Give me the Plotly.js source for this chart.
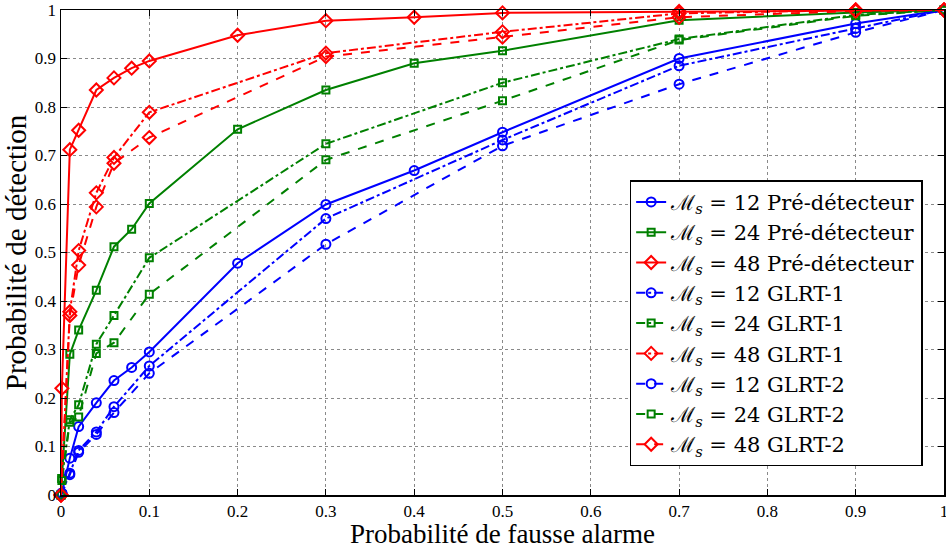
<!DOCTYPE html>
<html>
<head>
<meta charset="utf-8">
<script src="https://cdn.plot.ly/plotly-3.0.1.min.js"></script>
<style>html,body{margin:0;padding:0;background:#fff;}#chart{width:946px;height:549px;}</style>
</head>
<body>
<div id="chart"></div>
<script>
// Probability of false alarm (x) sample points
var xPre = [0, 0.001, 0.01, 0.02, 0.04, 0.06, 0.08, 0.1, 0.2, 0.3, 0.4, 0.5, 0.7, 0.9, 1];
var xGlrt = [0, 0.001, 0.01, 0.02, 0.04, 0.06, 0.1, 0.3, 0.5, 0.7, 0.9, 1];
var xGlrtRed = [0, 0.01, 0.02, 0.04, 0.06, 0.1, 0.3, 0.5, 0.7, 0.9, 1];

// Probability of detection (y)
var pre12 = [0, 0.004, 0.076, 0.141, 0.19, 0.236, 0.263, 0.295, 0.478, 0.599, 0.669, 0.748, 0.900, 0.972, 1];
var pre24 = [0, 0.034, 0.29, 0.34, 0.422, 0.512, 0.548, 0.601, 0.754, 0.835, 0.89, 0.916, 0.979, 0.995, 1];
var pre48 = [0, 0.22, 0.712, 0.752, 0.835, 0.86, 0.88, 0.895, 0.948, 0.978, 0.985, 0.994, 0.997, 1, 1];

var g1_12 = [0, 0.004, 0.045, 0.092, 0.13, 0.182, 0.266, 0.57, 0.732, 0.885, 0.962, 1];
var g1_24 = [0, 0.034, 0.155, 0.186, 0.311, 0.37, 0.489, 0.724, 0.85, 0.94, 0.99, 1];
var g1_48 = [0, 0.378, 0.504, 0.623, 0.696, 0.789, 0.911, 0.955, 0.993, 1, 1];

var g2_12 = [0, 0.004, 0.042, 0.088, 0.125, 0.17, 0.251, 0.517, 0.72, 0.847, 0.954, 1];
var g2_24 = [0, 0.03, 0.15, 0.161, 0.292, 0.314, 0.414, 0.691, 0.813, 0.938, 0.988, 1];
var g2_48 = [0, 0.37, 0.474, 0.594, 0.684, 0.737, 0.904, 0.944, 0.985, 0.998, 1];

var EQ = '&nbsp;=&nbsp;';
var labels = [
  'ℳ<sub><i>s</i></sub>' + EQ + '12 Pré-détecteur',
  'ℳ<sub><i>s</i></sub>' + EQ + '24 Pré-détecteur',
  'ℳ<sub><i>s</i></sub>' + EQ + '48 Pré-détecteur',
  'ℳ<sub><i>s</i></sub>' + EQ + '12 GLRT-1',
  'ℳ<sub><i>s</i></sub>' + EQ + '24 GLRT-1',
  'ℳ<sub><i>s</i></sub>' + EQ + '48 GLRT-1',
  'ℳ<sub><i>s</i></sub>' + EQ + '12 GLRT-2',
  'ℳ<sub><i>s</i></sub>' + EQ + '24 GLRT-2',
  'ℳ<sub><i>s</i></sub>' + EQ + '48 GLRT-2'
];

var BLUE = '#0000ff', GREEN = '#008000', RED = '#ff0000';

function tr(x, y, name, color, dash, symbol, size) {
  return {
    x: x, y: y, name: name, type: 'scatter', mode: 'lines+markers',
    line: {color: color, width: 2, dash: dash},
    marker: {symbol: symbol, size: size, color: color, line: {color: color, width: 2}},
    cliponaxis: false
  };
}

var data = [
  tr(xPre, pre12, labels[0], BLUE, 'solid', 'circle-open', 9),
  tr(xPre, pre24, labels[1], GREEN, 'solid', 'square-open', 7),
  tr(xPre, pre48, labels[2], RED, 'solid', 'diamond-open', 10),
  tr(xGlrt, g1_12, labels[3], BLUE, 'dashdot', 'circle-open', 9),
  tr(xGlrt, g1_24, labels[4], GREEN, 'dashdot', 'square-open', 7),
  tr(xGlrtRed, g1_48, labels[5], RED, 'dashdot', 'diamond-open', 10),
  tr(xGlrt, g2_12, labels[6], BLUE, 'dash', 'circle-open', 9),
  tr(xGlrt, g2_24, labels[7], GREEN, 'dash', 'square-open', 7),
  tr(xGlrtRed, g2_48, labels[8], RED, 'dash', 'diamond-open', 10)
];

var tickVals = [0, 0.1, 0.2, 0.3, 0.4, 0.5, 0.6, 0.7, 0.8, 0.9, 1];
var tickText = ['0', '0.1', '0.2', '0.3', '0.4', '0.5', '0.6', '0.7', '0.8', '0.9', '1'];

var FONT = 'Liberation Serif, DejaVu Serif, serif';
var LFONT = 'DejaVu Serif, Liberation Serif, serif';

var axisCommon = {
  range: [0, 1],
  tickmode: 'array', tickvals: tickVals, ticktext: tickText,
  ticks: 'inside', ticklen: 6, tickwidth: 1, tickcolor: '#000',
  showline: true, linecolor: '#000', linewidth: 1.5, mirror: 'allticks',
  showgrid: true, gridcolor: '#8a8a8a', gridwidth: 1, griddash: 'dot',
  zeroline: false, ticklabeloverflow: 'allow',
  tickfont: {family: FONT, size: 17, color: '#000'}
};

var layout = {
  width: 946, height: 549,
  margin: {l: 61, r: 2, t: 10, b: 54},
  paper_bgcolor: '#fff', plot_bgcolor: '#fff',
  font: {family: FONT, color: '#000'},
  showlegend: true,
  xaxis: Object.assign({}, axisCommon, {
    title: {text: 'Probabilité de fausse alarme', font: {family: FONT, size: 27, color: '#000'}, standoff: 0}
  }),
  yaxis: Object.assign({}, axisCommon, {
    title: {text: 'Probabilité de détection', font: {family: FONT, size: 29, color: '#000'}, standoff: 0}
  }),
  legend: {
    x: 0.644, y: 0.649, xanchor: 'left', yanchor: 'top',
    bgcolor: '#fff', bordercolor: '#000', borderwidth: 1.5,
    font: {family: LFONT, size: 21, color: '#000'},
    itemwidth: 30, tracegroupgap: 0
  }
};

Plotly.newPlot('chart', data, layout, {displayModeBar: false, staticPlot: true});
</script>
</body>
</html>
